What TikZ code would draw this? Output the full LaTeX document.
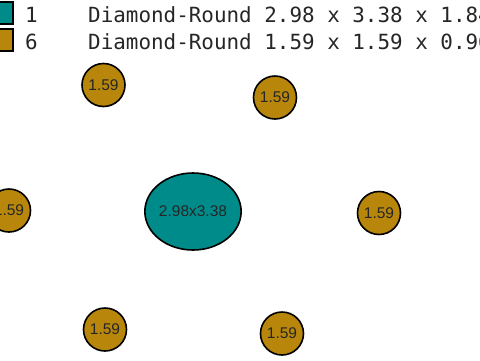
\documentclass[tikz,border=0pt]{standalone}
\usepackage{fontspec}
\setmainfont{Liberation Sans}
\newfontfamily\legendfont{DejaVu Sans Mono}
\usetikzlibrary{shapes.geometric}
\definecolor{tealfill}{HTML}{008B8B}
\definecolor{goldfill}{HTML}{B8860B}
\tikzset{
  gem/.style={circle, draw=black, line width=1.6pt, fill=goldfill, minimum size=43pt, inner sep=0pt,
    font=\fontsize{15.5}{15.5}\selectfont, text=black!85},
  biggem/.style={ellipse, draw=black, line width=1.6pt, fill=tealfill, minimum width=88pt, minimum height=77pt, inner sep=0pt,
    font=\fontsize{15.5}{15.5}\selectfont, text=black!85},
  swatch/.style={rectangle, draw=black, line width=1.5pt, minimum width=23pt, minimum height=22pt, inner sep=0pt},
  legtext/.style={anchor=base west, inner sep=0pt, font=\legendfont\fontsize{20.9}{20.9}\selectfont, text=black!85}
}
\begin{document}
\begin{tikzpicture}[x=1pt,y=-1pt]
\useasboundingbox (0,0) rectangle (480,360);
\clip (0,0) rectangle (480,360);
\fill[white] (0,0) rectangle (480,360);
% legend
\node[swatch, fill=tealfill] (sw1) at (1.5,13) {};
\node[swatch, fill=goldfill] (sw2) at (1.5,40) {};
\node[legtext] (n1) at (25,22) {1};
\node[legtext] (n2) at (25,49) {6};
\node[legtext] (d1) at (88,22) {Diamond-Round 2.98 x 3.38 x 1.84};
\node[legtext] (d2) at (88,49) {Diamond-Round 1.59 x 1.59 x 0.96};
% stones
\node[biggem] (c) at (193,211.5) {2.98x3.38};
\node[gem] (s1) at (103.5,85) {1.59};
\node[gem] (s2) at (275,97.5) {1.59};
\node[gem] (s3) at (9,210.5) {1.59};
\node[gem] (s4) at (379,213) {1.59};
\node[gem] (s5) at (105,329.5) {1.59};
\node[gem] (s6) at (282,333.5) {1.59};
\end{tikzpicture}
\end{document}
